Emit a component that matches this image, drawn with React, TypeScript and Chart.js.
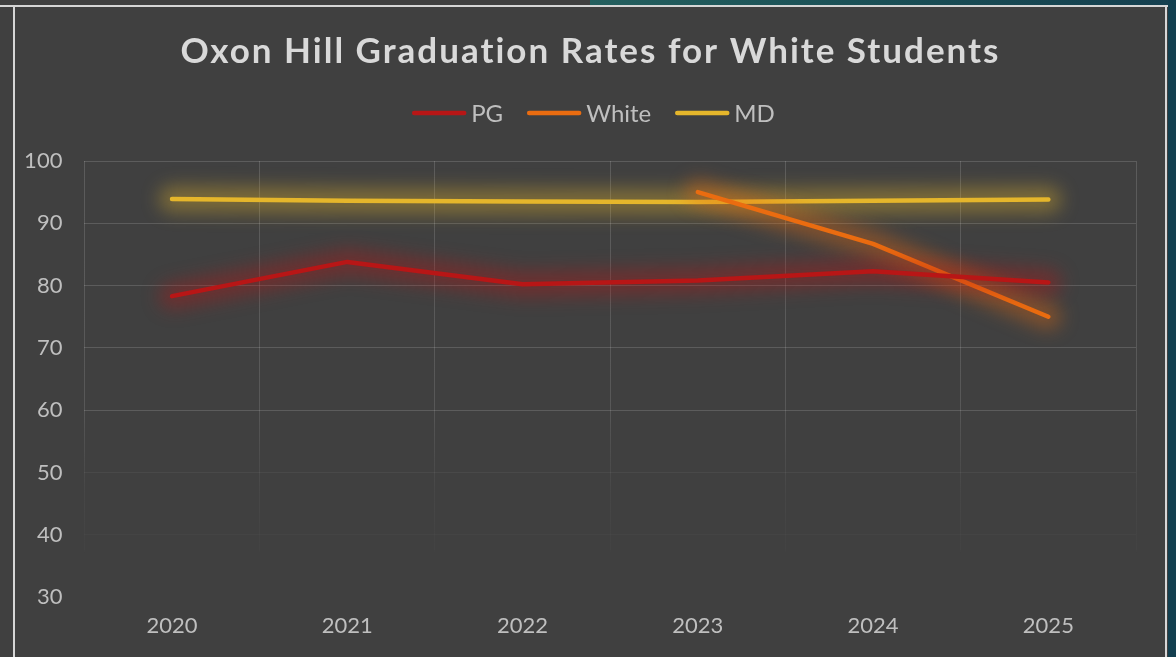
import React, { useEffect, useRef } from "react";
import { Chart, registerables } from "chart.js";

Chart.register(...registerables);

const TITLE = "Oxon Hill Graduation Rates for White Students";
const YEARS = ["2020", "2021", "2022", "2023", "2024", "2025"];
const PG = [78.3, 83.8, 80.2, 80.8, 82.3, 80.5];
const WHITE = [null, null, null, 95.0, 86.7, 75.0];
const MD = [93.9, 93.6, 93.5, 93.4, 93.6, 93.8];
const SERIES_NAMES = ["PG", "White", "MD"];
const SERIES_COLORS = ["#b81616", "#ea6c10", "#e5b62b"];
const Y_MIN = 30;
const Y_MAX = 100;
const Y_STEP = 10;

const FONT = "Lato, 'Noto Sans', sans-serif";
const TEXT = "#bfbfbf";
const TITLE_COLOR = "#d9d9d9";

const glowPlugin = {
  id: "glow",
  beforeDatasetDraw(chart: any, args: any) {
    const ctx = chart.ctx;
    const meta = chart.getDatasetMeta(args.index);
    const color = chart.data.datasets[args.index].borderColor;
    const pts = meta.data;
    ctx.save();
    ctx.filter = "blur(9px)";
    ctx.globalAlpha = 0.38;
    ctx.strokeStyle = color;
    ctx.lineWidth = 26;
    ctx.lineCap = "round";
    ctx.lineJoin = "round";
    ctx.beginPath();
    let started = false;
    for (let i = 0; i < pts.length; i++) {
      const p = pts[i];
      if (!p || p.skip || p.y == null || isNaN(p.y)) {
        started = false;
        continue;
      }
      if (!started) {
        ctx.moveTo(p.x, p.y);
        started = true;
      } else {
        ctx.lineTo(p.x, p.y);
      }
    }
    ctx.stroke();
    ctx.restore();
  },
};

const headerPlugin = {
  id: "header",
  afterDraw(chart: any) {
    const ctx = chart.ctx;
    const cx = 590.5;
    ctx.save();
    ctx.fillStyle = TITLE_COLOR;
    ctx.font = `bold 35px ${FONT}`;
    ctx.textBaseline = "middle";
    ctx.textAlign = "left";
    if ("letterSpacing" in ctx) (ctx as any).letterSpacing = "2px";
    const tw = ctx.measureText(TITLE).width;
    ctx.fillText(TITLE, cx - tw / 2, 52);
    if ("letterSpacing" in ctx) (ctx as any).letterSpacing = "0px";

    // legend
    ctx.font = `24px ${FONT}`;
    const boxW = 54;
    const gap = 5;
    const spacing = 24;
    const ds = chart.data.datasets;
    const widths = ds.map((d: any) => boxW + gap + ctx.measureText(d.label).width);
    const total = widths.reduce((a: number, b: number) => a + b, 0) + spacing * (ds.length - 1);
    let x = cx - total / 2 + 3;
    const y = 113;
    ds.forEach((d: any, i: number) => {
      ctx.strokeStyle = d.borderColor;
      ctx.lineWidth = 4.5;
      ctx.lineCap = "round";
      ctx.beginPath();
      ctx.moveTo(x + 2, y);
      ctx.lineTo(x + boxW - 2, y);
      ctx.stroke();
      ctx.fillStyle = TEXT;
      ctx.textAlign = "left";
      ctx.textBaseline = "middle";
      ctx.fillText(d.label, x + boxW + gap, y + 1);
      x += widths[i] + spacing;
    });
    ctx.restore();
  },
};

function yGridColor(c: any) {
  const v = c.tick ? c.tick.value : 100;
  if (v >= 60) return "rgba(255,255,255,0.15)";
  if (v >= 50) return "rgba(255,255,255,0.05)";
  if (v >= 40) return "rgba(255,255,255,0.025)";
  return "rgba(255,255,255,0)";
}

function xGridColor(c: any) {
  const ch = c.chart;
  const a = ch.chartArea;
  if (!a) return "rgba(255,255,255,0.15)";
  const g = ch.ctx.createLinearGradient(0, a.top, 0, a.bottom);
  g.addColorStop(0, "rgba(255,255,255,0.15)");
  g.addColorStop(0.55, "rgba(255,255,255,0.13)");
  g.addColorStop(0.75, "rgba(255,255,255,0.04)");
  g.addColorStop(0.89, "rgba(255,255,255,0.015)");
  g.addColorStop(0.9, "rgba(255,255,255,0)");
  g.addColorStop(1, "rgba(255,255,255,0)");
  return g;
}

export default function App() {
  const ref = useRef<HTMLCanvasElement | null>(null);

  useEffect(() => {
    document.body.style.margin = "0";
    const seriesData = [PG, WHITE, MD];
    const chart = new Chart(ref.current as HTMLCanvasElement, {
      type: "line",
      data: {
        labels: YEARS,
        datasets: SERIES_NAMES.map((name, i) => ({
          label: name,
          data: seriesData[i] as any,
          borderColor: SERIES_COLORS[i],
          backgroundColor: SERIES_COLORS[i],
          borderWidth: 4.5,
          borderCapStyle: "round",
          borderJoinStyle: "round",
          pointRadius: 0,
          pointHoverRadius: 0,
          tension: 0,
          spanGaps: false,
        })),
      },
      options: {
        responsive: false,
        animation: false,
        devicePixelRatio: 1,
        layout: { padding: { top: 161, left: 15, right: 40, bottom: 0 } },
        plugins: {
          legend: { display: false },
          title: { display: false },
          tooltip: { enabled: false },
        },
        scales: {
          x: {
            offset: true,
            border: { display: false },
            grid: { color: xGridColor as any, lineWidth: 1, drawTicks: false, offset: true },
            ticks: { color: TEXT, font: { family: FONT, size: 22 }, padding: 16 },
            afterFit(s: any) {
              s.height = 60;
            },
          },
          y: {
            min: Y_MIN,
            max: Y_MAX,
            border: { display: false },
            grid: { color: yGridColor as any, lineWidth: 1, drawTicks: false },
            ticks: { stepSize: Y_STEP, color: TEXT, font: { family: FONT, size: 22 }, padding: 22 },
            afterFit(s: any) {
              s.width = 69.4;
            },
          },
        },
      },
      plugins: [glowPlugin, headerPlugin],
    });
    return () => chart.destroy();
  }, []);

  return (
    <div style={{ position: "fixed", left: 0, top: 0, width: 1176, height: 657, background: "#404040", overflow: "hidden" }}>
      <div style={{ position: "absolute", left: 590, top: 0, width: 586, height: 6, background: "linear-gradient(90deg, #245f5e 0%, #1a4f56 50%, #153f4f 100%)" }} />
      <div style={{ position: "absolute", left: 1168, top: 0, width: 8, height: 657, background: "#133f4f" }} />
      <div style={{ position: "absolute", left: 0, top: 5, width: 1168, height: 2, background: "#d6d6d6" }} />
      <div style={{ position: "absolute", left: 13, top: 5, width: 2, height: 652, background: "#d6d6d6" }} />
      <div style={{ position: "absolute", left: 1165, top: 5, width: 2, height: 652, background: "#d6d6d6" }} />
      <canvas ref={ref} width={1176} height={657} style={{ position: "absolute", left: 0, top: 0, width: 1176, height: 657 }} />
    </div>
  );
}
